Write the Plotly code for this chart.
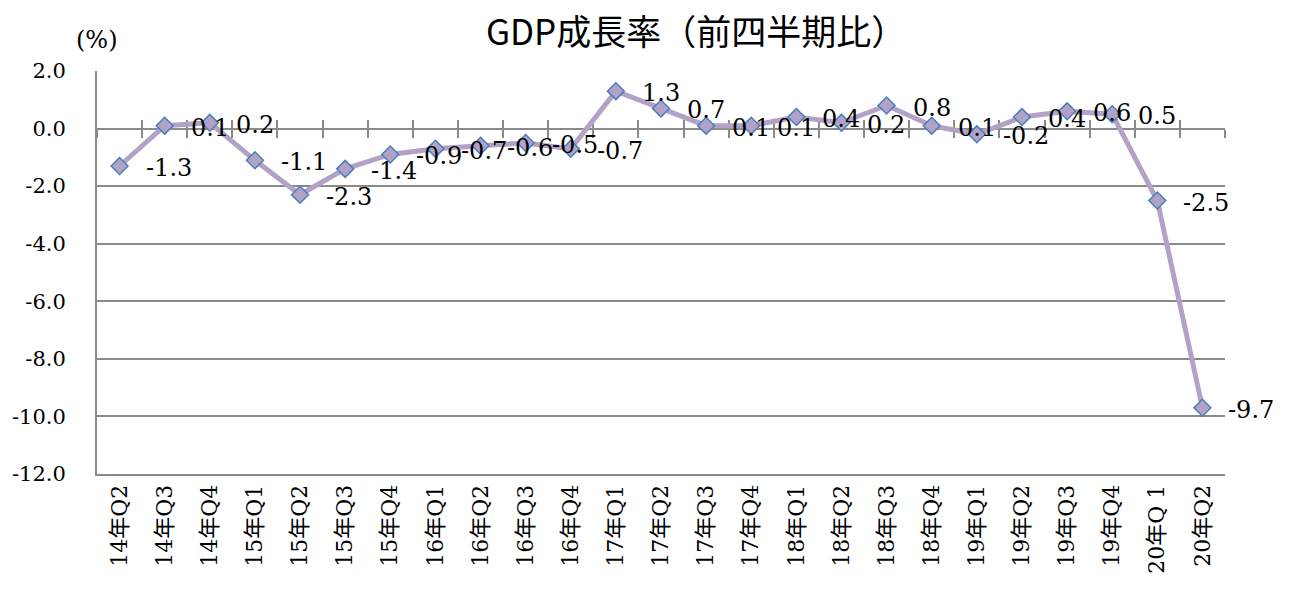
import plotly.graph_objects as go

categories = [
    "14年Q2", "14年Q3", "14年Q4", "15年Q1", "15年Q2", "15年Q3", "15年Q4",
    "16年Q1", "16年Q2", "16年Q3", "16年Q4", "17年Q1", "17年Q2", "17年Q3",
    "17年Q4", "18年Q1", "18年Q2", "18年Q3", "18年Q4", "19年Q1", "19年Q2",
    "19年Q3", "19年Q4", "20年Q 1", "20年Q2",
]
growth = [
    -1.3, 0.1, 0.2, -1.1, -2.3, -1.4, -0.9,
    -0.7, -0.6, -0.5, -0.7, 1.3, 0.7, 0.1,
    0.1, 0.4, 0.2, 0.8, 0.1, -0.2, 0.4,
    0.6, 0.5, -2.5, -9.7,
]
y_ticks = [2, 0, -2, -4, -6, -8, -10, -12]
y_range = [-12, 2]

serif = "DejaVu Serif, Noto Sans CJK JP"
grey = "#8a8a8a"
cat_range = [-0.5, len(categories) - 0.5]

fig = go.Figure()

# invisible traces so the two overlay axes (ticks crossing the zero line) get drawn
for ax in ["x", "x2"]:
    fig.add_trace(go.Scatter(
        x=categories, y=growth, xaxis=ax, yaxis="y", mode="lines",
        opacity=0, hoverinfo="skip", showlegend=False,
    ))

fig.add_trace(go.Scatter(
    x=categories, y=growth, xaxis="x3", yaxis="y",
    mode="lines+markers",
    line=dict(color="#B3A2C7", width=5),
    marker=dict(symbol="diamond", size=13, color="#B3A2C7",
                line=dict(color="#4A7EBB", width=1.5)),
    showlegend=False,
))

# data labels to the right of each point
for c, v in zip(categories, growth):
    fig.add_annotation(
        x=c, y=v, xref="x3", yref="y", text=f"{v:.1f}", showarrow=False,
        xanchor="left", yanchor="middle", xshift=24, yshift=-2,
        font=dict(family=serif, size=24, color="black"),
    )

fig.add_annotation(
    text="(%)", x=0, y=1.077, xref="paper", yref="paper",
    xanchor="center", yanchor="middle", showarrow=False,
    font=dict(family=serif, size=24, color="black"),
)

zero_pos = (0 - y_range[0]) / (y_range[1] - y_range[0])
cross_axis = dict(
    type="category", range=cat_range, anchor="free", position=zero_pos,
    showticklabels=False, showgrid=False, zeroline=False,
    showline=True, linecolor=grey, linewidth=2,
    tickson="boundaries", ticklen=8, tickwidth=2, tickcolor=grey,
    layer="below traces",
)

# the page body adds an 8px offset, so margins are shifted to compensate
fig.update_layout(
    width=1291, height=596,
    paper_bgcolor="white", plot_bgcolor="white",
    margin=dict(l=89, r=74, t=63, b=130),
    title=dict(text="GDP成長率（前四半期比）", x=0.533, xanchor="center",
               y=0.959, yanchor="middle",
               font=dict(family="Noto Sans CJK JP", size=35, color="black")),
    xaxis=dict(cross_axis, ticks="outside"),
    xaxis2=dict(cross_axis, ticks="inside", overlaying="x"),
    xaxis3=dict(
        type="category", range=cat_range, overlaying="x", anchor="y",
        side="bottom", tickangle=-90, showgrid=False, zeroline=False,
        showline=True, linecolor=grey, linewidth=2, ticks="",
        automargin=False,
        tickfont=dict(family=serif, size=22, color="black"),
    ),
    yaxis=dict(
        range=y_range, tickvals=y_ticks,
        ticktext=[f"{t:.1f}" for t in y_ticks], zeroline=False,
        showgrid=True, gridcolor=grey, gridwidth=2,
        showline=True, linecolor=grey, linewidth=2, ticks="",
        ticklabelstandoff=25, automargin=False,
        tickfont=dict(family=serif, size=21, color="black"),
        layer="below traces",
    ),
)

fig.write_html("out.html")
